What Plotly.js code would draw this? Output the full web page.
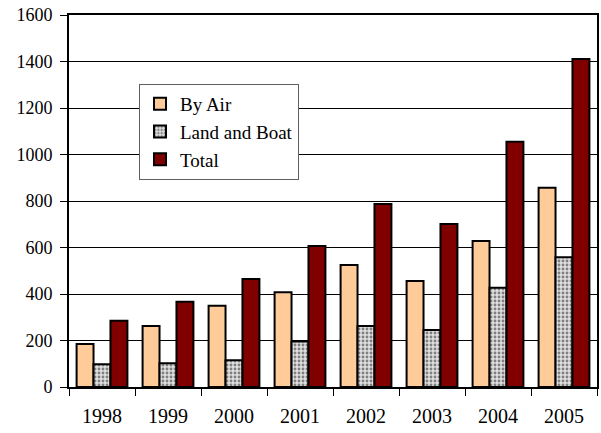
<!DOCTYPE html>
<html><head><meta charset="utf-8">
<script src="https://cdn.plot.ly/plotly-3.0.1.min.js"></script>
<style>html,body{margin:0;padding:0;background:#fff}</style>
</head><body>
<div id="chart" style="width:601px;height:433px"></div>
<script>
var years = ["1998","1999","2000","2001","2002","2003","2004","2005"];
var byAir = [185, 262, 350, 407, 525, 456, 628, 857];
var landBoat = [98, 102, 115, 196, 262, 245, 427, 558];
var total = [285, 367, 464, 606, 787, 701, 1055, 1411];

var line = {color: "#000", width: 2};
var traces = [
  {type: "bar", name: "By Air", x: years, y: byAir,
   marker: {color: "#FFCC99", line: line}},
  {type: "bar", name: "Land and Boat", x: years, y: landBoat,
   marker: {color: "#C0C0C0", line: line,
            pattern: {shape: ".", fgcolor: "#7f7f7f", bgcolor: "#E0E0E0", size: 4, solidity: 0.4}}},
  {type: "bar", name: "Total", x: years, y: total,
   marker: {color: "#800000", line: line}}
];
var serif = "Liberation Serif";
var layout = {
  width: 601, height: 433,
  margin: {l: 69, r: 4, t: 15, b: 46},
  paper_bgcolor: "#fff", plot_bgcolor: "#fff",
  font: {family: serif, size: 18, color: "#000"},
  barmode: "group", bargap: 0.23, bargroupgap: 0,
  showlegend: true,
  legend: {x: 0.1326, y: 0.8145, xanchor: "left", yanchor: "top",
           bordercolor: "#606060", borderwidth: 1, bgcolor: "#fff",
           font: {family: serif, size: 19}, tracegroupgap: 0, itemwidth: 30},
  xaxis: {type: "category", showline: true, linecolor: "#000", linewidth: 2, mirror: true,
          ticks: "outside", ticklen: 7, tickcolor: "#000", tickson: "boundaries",
          tickfont: {family: serif, size: 20}, ticklabelstandoff: 10,
          showgrid: false, fixedrange: true},
  yaxis: {range: [0, 1600], dtick: 200, showline: true, linecolor: "#000", linewidth: 2, mirror: true,
          ticks: "outside", ticklen: 7, tickcolor: "#000",
          tickfont: {family: serif, size: 18}, ticklabelstandoff: 4,
          showgrid: true, gridcolor: "#000", gridwidth: 1, zeroline: false, fixedrange: true}
};
Plotly.newPlot("chart", traces, layout, {displayModeBar: false, staticPlot: true});
</script>
</body></html>
